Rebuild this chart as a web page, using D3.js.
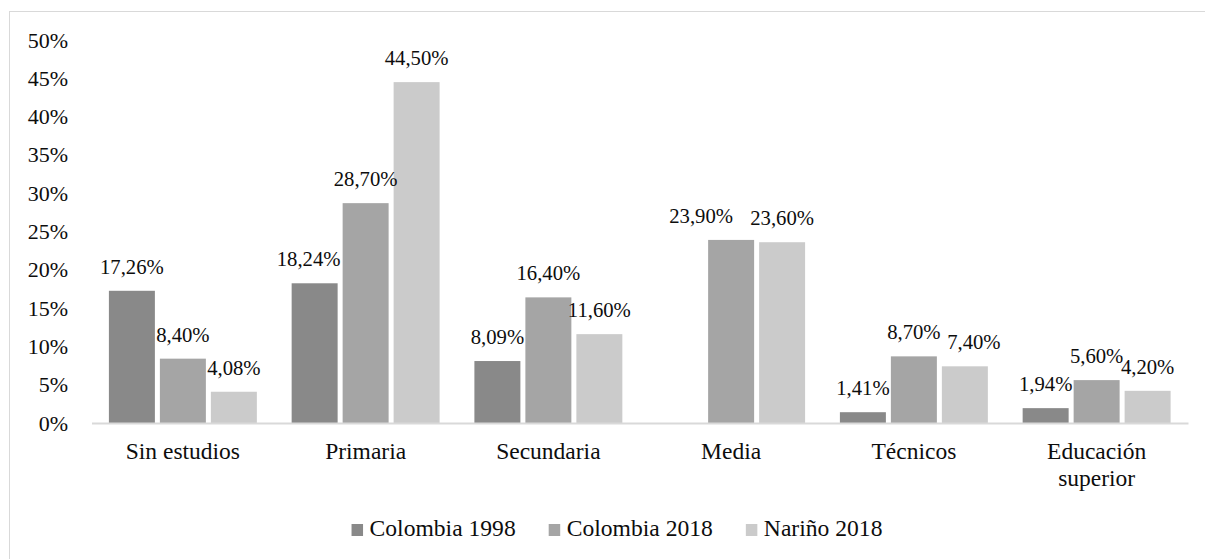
<!DOCTYPE html>
<html>
<head>
<meta charset="utf-8">
<script src="https://cdn.jsdelivr.net/npm/d3@7"></script>
<style>
  body { margin: 0; background: #fff; }
  svg { display: block; }
</style>
</head>
<body>
<script>
const categories = ['Sin estudios', 'Primaria', 'Secundaria', 'Media', 'Técnicos', 'Educación superior'];
const seriesNames = ['Colombia 1998', 'Colombia 2018', 'Nariño 2018'];
const colombia1998 = [17.26, 18.24, 8.09, null, 1.41, 1.94];
const colombia2018 = [8.40, 28.70, 16.40, 23.90, 8.70, 5.60];
const narino2018 = [4.08, 44.50, 11.60, 23.60, 7.40, 4.20];
const yTicks = [0, 5, 10, 15, 20, 25, 30, 35, 40, 45, 50];

const seriesValues = [colombia1998, colombia2018, narino2018];
const colors = ['#898989', '#a5a5a5', '#cbcbcb'];
const FONT = '"Liberation Serif"';

// Excel moved a few labels sideways to avoid overlaps
const labelNudge = { 'Colombia 1998|Primaria': -6, 'Colombia 2018|Media': -30, 'Nariño 2018|Técnicos': 9 };

const W = 1205, H = 559;
const margin = { top: 40, left: 91.5 };
const width = 1096.5;
const height = 383;

const svg = d3.select('body').append('svg')
  .attr('width', W)
  .attr('height', H);

svg.append('rect')
  .attr('x', 9.5).attr('y', 11.5)
  .attr('width', 1220).attr('height', 600)
  .attr('fill', '#fff')
  .attr('stroke', '#d9d9d9');

const g = svg.append('g')
  .attr('transform', `translate(${margin.left},${margin.top})`);

const x0 = d3.scaleBand().domain(categories).range([0, width]);
const x1 = d3.scaleBand().domain(seriesNames)
  .range([17.4, x0.bandwidth() - 17.4])
  .paddingInner(5 / 51);
const y = d3.scaleLinear().domain([0, 50]).range([height, 0]);

// y axis
const yAxis = g.append('g')
  .call(d3.axisLeft(y).tickValues(yTicks).tickSize(0).tickPadding(23.5).tickFormat(d => d + '%'));
yAxis.select('.domain').remove();
yAxis.selectAll('text')
  .style('font-family', FONT)
  .style('font-size', '22px')
  .attr('fill', '#0d0d0d');

// bars
const rows = categories.map((c, i) => ({
  cat: c,
  vals: seriesNames.map((s, j) => ({ series: s, j, cat: c, v: seriesValues[j][i] }))
}));

const groups = g.selectAll('.grp')
  .data(rows)
  .enter().append('g')
  .attr('class', 'grp')
  .attr('transform', d => `translate(${x0(d.cat)},0)`);

groups.selectAll('rect')
  .data(d => d.vals.filter(e => e.v != null))
  .enter().append('rect')
  .attr('x', d => x1(d.series))
  .attr('y', d => y(d.v))
  .attr('width', x1.bandwidth())
  .attr('height', d => height - y(d.v))
  .attr('fill', d => colors[d.j]);

groups.selectAll('text')
  .data(d => d.vals.filter(e => e.v != null))
  .enter().append('text')
  .attr('x', d => x1(d.series) + x1.bandwidth() / 2 + (labelNudge[d.series + '|' + d.cat] || 0))
  .attr('y', d => y(d.v) - 17)
  .attr('text-anchor', 'middle')
  .style('font-family', FONT)
  .style('font-size', '20.7px')
  .attr('fill', '#0d0d0d')
  .text(d => d.v.toFixed(2).replace('.', ',') + '%');

// x axis
const xAxis = g.append('g')
  .attr('transform', `translate(0,${height})`)
  .call(d3.axisBottom(x0).tickSize(0).tickSizeOuter(0).tickPadding(19.3));
xAxis.select('.domain')
  .attr('stroke', '#d9d9d9')
  .attr('stroke-width', 2);
xAxis.selectAll('text')
  .style('font-family', FONT)
  .style('font-size', '23.5px')
  .attr('fill', '#0d0d0d')
  .each(function () {
    const t = d3.select(this);
    const words = t.text().split(' ');
    const maxW = x0.bandwidth() - 12;
    const lines = [];
    let line = [];
    t.text(null);
    const probe = t.append('tspan');
    words.forEach(w => {
      const test = line.concat(w).join(' ');
      probe.text(test);
      if (probe.node().getComputedTextLength() > maxW && line.length) {
        lines.push(line.join(' '));
        line = [w];
      } else {
        line.push(w);
      }
    });
    lines.push(line.join(' '));
    probe.remove();
    lines.forEach((l, k) => {
      t.append('tspan')
        .attr('x', 0)
        .attr('dy', k === 0 ? '0.71em' : '27px')
        .text(l);
    });
  });

// legend
const legend = svg.append('g');
let lx = 0;
seriesNames.forEach((s, j) => {
  const item = legend.append('g').attr('transform', `translate(${lx},0)`);
  item.append('rect')
    .attr('x', 0).attr('y', -12)
    .attr('width', 11.5).attr('height', 12)
    .attr('fill', colors[j]);
  const txt = item.append('text')
    .attr('x', 18)
    .attr('y', 0)
    .style('font-family', FONT)
    .style('font-size', '23.6px')
    .attr('fill', '#0d0d0d')
    .text(s);
  lx += 18 + txt.node().getComputedTextLength() + 33;
});
const legendW = lx - 33;
legend.attr('transform', `translate(${617 - legendW / 2},536)`);
</script>
</body>
</html>
